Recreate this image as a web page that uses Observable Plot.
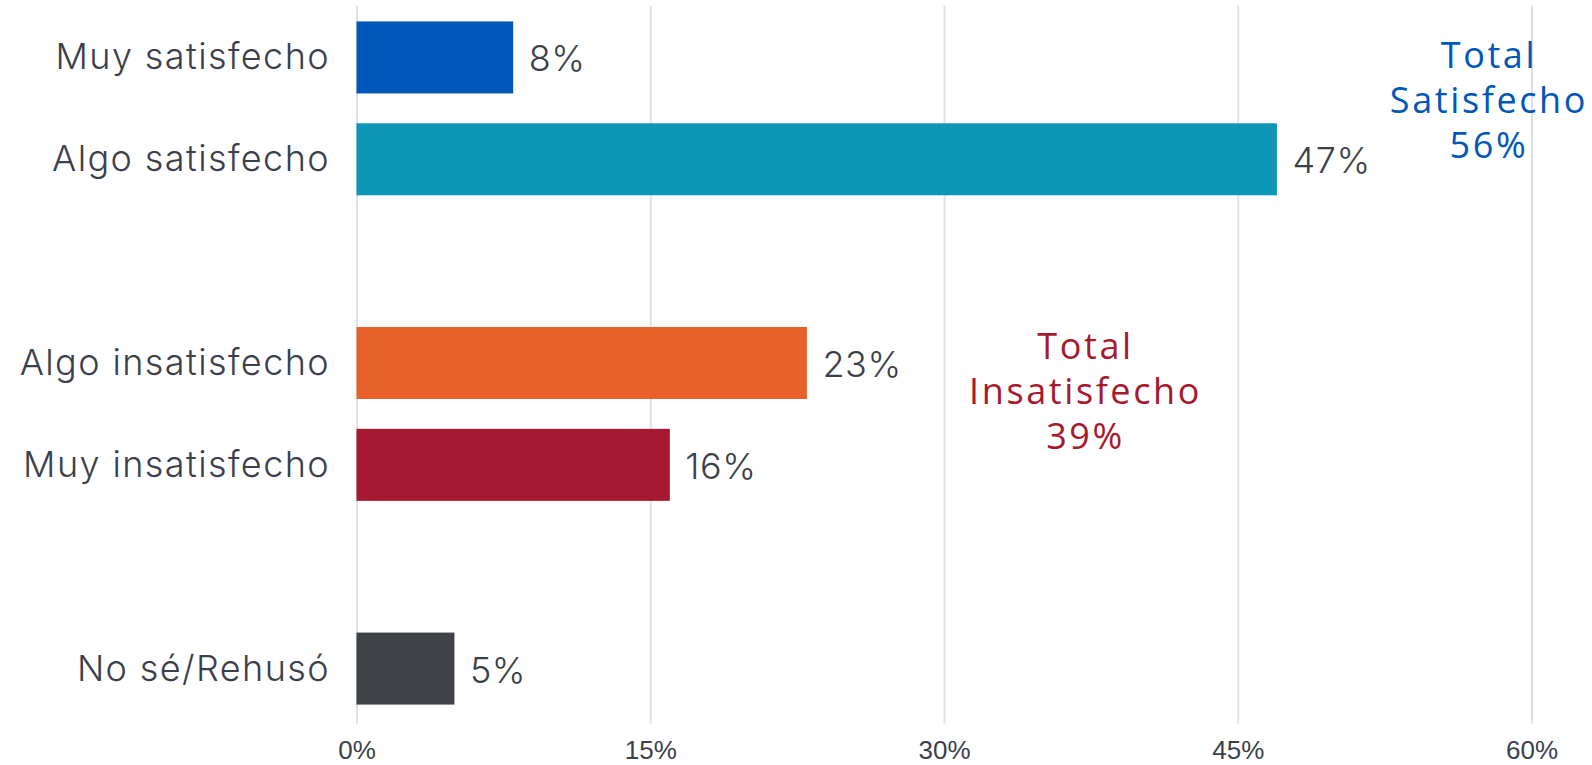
<!DOCTYPE html>
<html>
<head>
<meta charset="utf-8">
<script src="https://cdn.jsdelivr.net/npm/d3@7"></script>
<script src="https://cdn.jsdelivr.net/npm/@observablehq/plot@0.6"></script>
<style>
  html, body { margin: 0; padding: 0; background: #fff; overflow: hidden; }
  .ylab text { letter-spacing: 1.4px; }
  .vlab text { letter-spacing: 0.6px; }
  .annot text { letter-spacing: 2.6px; }
</style>
</head>
<body>
<div id="chart"></div>
<script>
// Data
const categories = ["Muy satisfecho", "Algo satisfecho", "Algo insatisfecho", "Muy insatisfecho", "No sé/Rehusó"];
const values = [8, 47, 23, 16, 5];
const colors = ["#0057b8", "#0d96b5", "#e8612a", "#a51931", "#3f4347"];
const slots = ["Muy satisfecho", "Algo satisfecho", "gap1", "Algo insatisfecho", "Muy insatisfecho", "gap2", "No sé/Rehusó"];
const xTicks = [0, 15, 30, 45, 60];
const totalSat = [{label: "Total\nSatisfecho\n56%", anchorCat: "Muy satisfecho", x: 57.8}];
const totalInsat = [{label: "Total\nInsatisfecho\n39%", anchorCat: "Algo insatisfecho", x: 37.2}];

const rows = categories.map((c, i) => ({cat: c, value: values[i], color: colors[i]}));

const labelColor = "#3b3f4c";
const annotFont = {fontSize: 36, lineHeight: 1.25, fontFamily: "Open Sans, Noto Sans, sans-serif", className: "annot"};

const chart = Plot.plot({
  width: 1592,
  height: 765,
  marginLeft: 356.5,
  marginRight: 60.5,
  marginTop: 6.5,
  marginBottom: 45.5,
  style: {background: "#fff", overflow: "visible"},
  x: {domain: [0, 60], axis: null},
  y: {domain: slots, paddingInner: 0.293, paddingOuter: 0.1465, round: false, axis: null},
  marks: [
    Plot.gridX(xTicks, {stroke: "#dde1e8", strokeOpacity: 1, strokeWidth: 2, insetTop: -1, insetBottom: -4}),
    Plot.barX(rows, {x: "value", y: "cat", fill: "color"}),
    Plot.text(rows, {
      x: "value", y: "cat", text: d => d.value + "%",
      textAnchor: "start", dx: 15, dy: 2,
      fontSize: 36, fontWeight: 300, fontFamily: "Inter, Lato, sans-serif",
      fill: labelColor, className: "vlab"
    }),
    Plot.axisY({
      ticks: categories, tickSize: 0, tickPadding: 27, label: null,
      fontSize: 36, fontWeight: 300, fontFamily: "Inter, Lato, sans-serif",
      fill: labelColor, className: "ylab"
    }),
    Plot.axisX({
      ticks: xTicks, tickSize: 0, tickPadding: 21, label: null,
      tickFormat: d => d + "%",
      fontSize: 26, fontFamily: "Liberation Sans, Arial, sans-serif",
      fill: "#3a3f4b"
    }),
    Plot.text(totalSat, {x: "x", y: "anchorCat", text: "label", fill: "#0057b8", dy: 41, ...annotFont}),
    Plot.text(totalInsat, {x: "x", y: "anchorCat", text: "label", fill: "#a6192e", dy: 26.5, ...annotFont})
  ]
});

document.getElementById("chart").appendChild(chart);
</script>
</body>
</html>
